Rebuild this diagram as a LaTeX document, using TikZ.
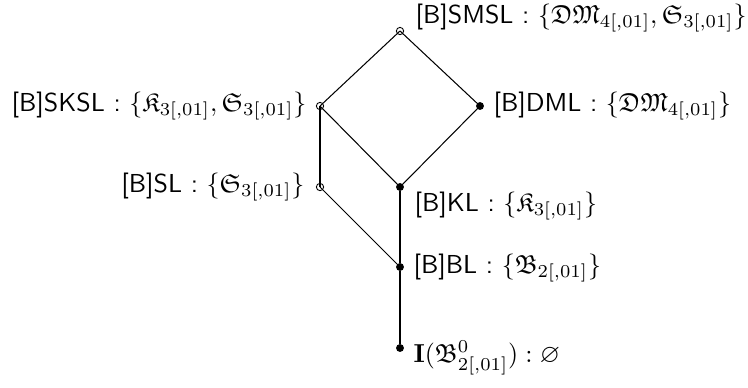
\documentclass[tikz,border=0pt]{standalone}
\usepackage{amssymb}
\begin{document}
\begin{tikzpicture}[x=0.385pt,y=-0.385pt,
  full/.style={circle,fill=black,draw=black,inner sep=0pt,minimum size=2.6pt},
  hollow/.style={circle,draw=black,inner sep=0pt,minimum size=2.8pt,line width=0.35pt},
  lbl/.style={inner sep=0pt},
  edge/.style={line width=0.4pt}]
\useasboundingbox (0,0) rectangle (748,387);
\node[hollow] (smsl) at (400,31) {};
\node[hollow] (sksl) at (320,106) {};
\node[full] (dml) at (480,106) {};
\node[full] (kl) at (400,187) {};
\node[hollow] (sl) at (320,187) {};
\node[full] (bl) at (400,267) {};
\node[full] (bot) at (400,348) {};
\draw[edge] (smsl.center) -- (sksl.center);
\draw[edge] (smsl.center) -- (dml);
\draw[edge] (sksl.center) -- (kl);
\draw[edge] (dml) -- (kl);
\draw[edge] (sksl.center) -- (sl.center);
\draw[edge] (sl.center) -- (bl);
\draw[edge] (kl) -- (bl);
\draw[edge] (bl) -- (bot);
\node[lbl,anchor=base west] (lsmsl) at (415,23) {\textsf{[B]SMSL :} $\{\mathfrak{DM}_{4[,01]},\mathfrak{S}_{3[,01]}\}$};
\node[lbl,anchor=east] (lsksl) at (307,106) {\textsf{[B]SKSL :} $\{\mathfrak{K}_{3[,01]},\mathfrak{S}_{3[,01]}\}$};
\node[lbl,anchor=west] (ldml) at (493,106) {\textsf{[B]DML :} $\{\mathfrak{DM}_{4[,01]}\}$};
\node[lbl,anchor=west] (lkl) at (414,206) {\textsf{[B]KL :} $\{\mathfrak{K}_{3[,01]}\}$};
\node[lbl,anchor=east] (lsl) at (305,187) {\textsf{[B]SL :} $\{\mathfrak{S}_{3[,01]}\}$};
\node[lbl,anchor=west] (lbl) at (413,268) {\textsf{[B]BL :} $\{\mathfrak{B}_{2[,01]}\}$};
\node[lbl,anchor=west] (lbot) at (413,358) {$\mathbf{I}(\mathfrak{B}^0_{2[,01]}):\varnothing$};
\end{tikzpicture}
\end{document}
